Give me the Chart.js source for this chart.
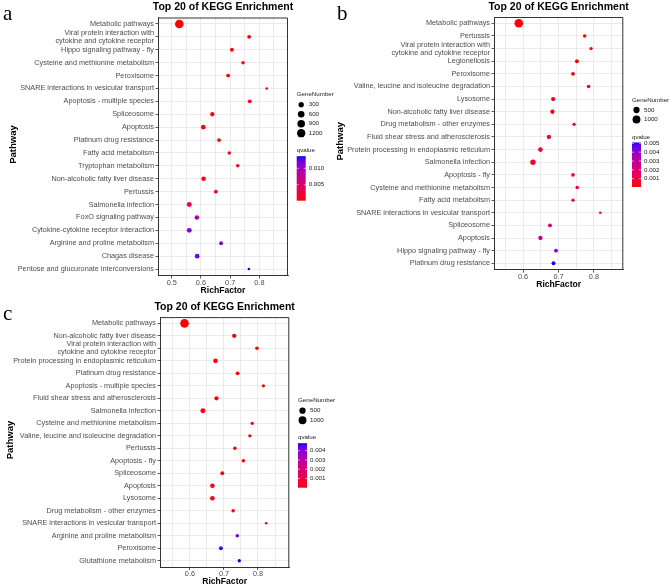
<!DOCTYPE html>
<html>
<head>
<meta charset="utf-8">
<script src="https://cdn.jsdelivr.net/npm/chart.js@4.4.0/dist/chart.umd.min.js"></script>
<style>
  body { margin: 0; background: #fff; width: 670px; height: 588px; position: relative; overflow: hidden; }
  canvas { position: absolute; }
</style>
</head>
<body>
<canvas id="ca" width="335" height="300" style="left:0;top:0"></canvas>
<canvas id="cb" width="335" height="300" style="left:335px;top:0"></canvas>
<canvas id="cc" width="335" height="288" style="left:0;top:300px"></canvas>
<script>
// ---- panel a ----
const pathwaysA = ['Metabolic pathways', ['Viral protein interaction with', 'cytokine and cytokine receptor'],
  'Hippo signaling pathway - fly', 'Cysteine and methionine metabolism', 'Peroxisome',
  'SNARE interactions in vesicular transport', 'Apoptosis - multiple species', 'Spliceosome', 'Apoptosis',
  'Platinum drug resistance', 'Fatty acid metabolism', 'Tryptophan metabolism', 'Non-alcoholic fatty liver disease',
  'Pertussis', 'Salmonella infection', 'FoxO signaling pathway', 'Cytokine-cytokine receptor interaction',
  'Arginine and proline metabolism', 'Chagas disease', 'Pentose and glucuronate interconversions'];
const richA = [0.526, 0.765, 0.706, 0.744, 0.693, 0.825, 0.767, 0.639, 0.608, 0.662,
  0.697, 0.726, 0.609, 0.651, 0.560, 0.586, 0.560, 0.669, 0.587, 0.764];
const genesA = [1320, 78, 78, 53, 78, 25, 78, 123, 167, 78, 53, 53, 167, 78, 218, 167, 218, 78, 167, 25];
const qvalA = [0.0001, 0.0002, 0.0002, 0.0003, 0.0003, 0.0004, 0.0004, 0.0005, 0.0005, 0.0006,
  0.0007, 0.0008, 0.0009, 0.0010, 0.0025, 0.0088, 0.0112, 0.0110, 0.0122, 0.0137];
const xTicksA = [0.5, 0.6, 0.7, 0.8];
const geneKeysA = [300, 600, 900, 1200];
const qTicksA = [0.005, 0.010];

// ---- panel b ----
const pathwaysB = ['Metabolic pathways', 'Pertussis', ['Viral protein interaction with', 'cytokine and cytokine receptor'],
  'Legionellosis', 'Peroxisome', 'Valine, leucine and isoleucine degradation', 'Lysosome',
  'Non-alcoholic fatty liver disease', 'Drug metabolism - other enzymes', 'Fluid shear stress and atherosclerosis',
  'Protein processing in endoplasmic reticulum', 'Salmonella infection', 'Apoptosis - fly',
  'Cysteine and methionine metabolism', 'Fatty acid metabolism', 'SNARE interactions in vesicular transport',
  'Spliceosome', 'Apoptosis', 'Hippo signaling pathway - fly', 'Platinum drug resistance'];
const richB = [0.588, 0.774, 0.792, 0.752, 0.741, 0.785, 0.685, 0.683, 0.744, 0.673,
  0.649, 0.628, 0.741, 0.753, 0.741, 0.818, 0.676, 0.649, 0.693, 0.686];
const genesB = [1300, 53, 36, 78, 78, 53, 123, 123, 36, 123, 167, 298, 53, 53, 36, 20, 78, 123, 78, 78];
const qvalB = [0.00005, 0.00006, 0.00008, 0.0001, 0.0001, 0.00012, 0.00015, 0.0002, 0.0003, 0.0004,
  0.0006, 0.0006, 0.0009, 0.0010, 0.0008, 0.0012, 0.0022, 0.0028, 0.0040, 0.0051];
const xTicksB = [0.6, 0.7, 0.8];
const geneKeysB = [500, 1000];
const qTicksB = [0.001, 0.002, 0.003, 0.004, 0.005];

// ---- panel c ----
const pathwaysC = ['Metabolic pathways', 'Non-alcoholic fatty liver disease',
  ['Viral protein interaction with', 'cytokine and cytokine receptor'],
  'Protein processing in endoplasmic reticulum', 'Platinum drug resistance', 'Apoptosis - multiple species',
  'Fluid shear stress and atherosclerosis', 'Salmonella infection', 'Cysteine and methionine metabolism',
  'Valine, leucine and isoleucine degradation', 'Pertussis', 'Apoptosis - fly', 'Spliceosome', 'Apoptosis',
  'Lysosome', 'Drug metabolism - other enzymes', 'SNARE interactions in vesicular transport',
  'Arginine and proline metabolism', 'Peroxisome', 'Glutathione metabolism'];
const richC = [0.584, 0.730, 0.797, 0.675, 0.740, 0.816, 0.678, 0.638, 0.783, 0.776,
  0.732, 0.757, 0.695, 0.666, 0.666, 0.727, 0.824, 0.739, 0.691, 0.745];
const genesC = [1300, 123, 53, 167, 78, 36, 123, 218, 36, 36, 53, 53, 78, 167, 167, 53, 20, 53, 78, 36];
const qvalC = [0.00002, 0.00003, 0.00004, 0.00004, 0.00005, 0.00006, 0.00007, 0.00008, 0.0001, 0.0001,
  0.00012, 0.00014, 0.00016, 0.00018, 0.0002, 0.00025, 0.0003, 0.0040, 0.0046, 0.0048];
const xTicksC = [0.6, 0.7, 0.8];
const geneKeysC = [500, 1000];
const qTicksC = [0.001, 0.002, 0.003, 0.004];

const FONT = '"Liberation Sans", Arial, sans-serif';
Chart.defaults.font.family = FONT;

// red -> blue in Lab space, like ggplot's gradient
function toLab(rgb) {
  const lin = c => { c /= 255; return c <= 0.04045 ? c / 12.92 : Math.pow((c + 0.055) / 1.055, 2.4); };
  const [r, g, b] = rgb.map(lin);
  const x = (0.4124 * r + 0.3576 * g + 0.1805 * b) / 0.95047;
  const y = 0.2126 * r + 0.7152 * g + 0.0722 * b;
  const z = (0.0193 * r + 0.1192 * g + 0.9505 * b) / 1.08883;
  const f = t => t > 0.008856 ? Math.cbrt(t) : 7.787 * t + 16 / 116;
  return [116 * f(y) - 16, 500 * (f(x) - f(y)), 200 * (f(y) - f(z))];
}
function fromLab(L, a, bb) {
  const fy = (L + 16) / 116, fx = fy + a / 500, fz = fy - bb / 200;
  const inv = t => t * t * t > 0.008856 ? t * t * t : (t - 16 / 116) / 7.787;
  const x = inv(fx) * 0.95047, y = inv(fy), z = inv(fz) * 1.08883;
  const r = 3.2406 * x - 1.5372 * y - 0.4986 * z;
  const g = -0.9689 * x + 1.8758 * y + 0.0415 * z;
  const b = 0.0557 * x - 0.2040 * y + 1.0570 * z;
  const gam = c => {
    c = c <= 0.0031308 ? 12.92 * c : 1.055 * Math.pow(c, 1 / 2.4) - 0.055;
    return Math.round(Math.max(0, Math.min(1, c)) * 255);
  };
  return 'rgb(' + gam(r) + ',' + gam(g) + ',' + gam(b) + ')';
}
const LAB_LO = toLab([255, 0, 0]), LAB_HI = toLab([0, 0, 255]);
function mixColor(t) {
  t = Math.max(0, Math.min(1, t));
  return fromLab(LAB_LO[0] + (LAB_HI[0] - LAB_LO[0]) * t,
                 LAB_LO[1] + (LAB_HI[1] - LAB_LO[1]) * t,
                 LAB_LO[2] + (LAB_HI[2] - LAB_LO[2]) * t);
}

function buildPanel(id, p) {
  const canvas = document.getElementById(id);
  const W = canvas.width, H = canvas.height;
  const box = p.box;
  const gMin = Math.min(...p.genes), gMax = Math.max(...p.genes);
  const qMin = Math.min(...p.qvals), qMax = Math.max(...p.qvals);
  const radius = g => (2.6 + Math.sqrt(Math.max(0, g - gMin) / (gMax - gMin)) * 6.0) / 2;
  const colorOf = q => mixColor((q - qMin) / (qMax - qMin));

  const grid = [];
  for (let v = Math.ceil(p.xMin / 0.05) * 0.05; v <= p.xMax + 1e-9; v += 0.05) grid.push(+v.toFixed(2));
  const isMajor = v => p.xTicks.some(t => Math.abs(t - v) < 1e-6);

  const points = p.labels.map((lab, i) => ({ x: p.rich[i], y: i, r: radius(p.genes[i]) }));

  const decor = {
    id: 'decor_' + id,
    afterDraw(chart) {
      const ctx = chart.ctx, a = chart.chartArea;
      ctx.save();
      // right and top panel border
      ctx.strokeStyle = '#333';
      ctx.lineWidth = 1;
      ctx.beginPath();
      ctx.moveTo(a.left, a.top + 0.5);
      ctx.lineTo(a.right - 0.5, a.top + 0.5);
      ctx.lineTo(a.right - 0.5, a.bottom);
      ctx.stroke();

      ctx.fillStyle = '#000';
      ctx.textAlign = 'center';
      ctx.textBaseline = 'middle';
      ctx.font = 'bold 10.5px ' + FONT;
      ctx.fillText('Top 20 of KEGG Enrichment', (a.left + a.right) / 2, p.titleY);
      ctx.font = 'bold 8.6px ' + FONT;
      ctx.fillText('RichFactor', (a.left + a.right) / 2, p.xTitleY);
      ctx.save();
      ctx.translate(p.yTitleX, (a.top + a.bottom) / 2 - 2);
      ctx.rotate(-Math.PI / 2);
      ctx.font = 'bold 9.5px ' + FONT;
      ctx.fillText('Pathway', 0, 0);
      ctx.restore();

      // panel letter
      ctx.textAlign = 'left';
      ctx.textBaseline = 'alphabetic';
      ctx.font = '21px "Liberation Serif", "Times New Roman", serif';
      ctx.fillText(p.tag, p.tagX, 20);

      // GeneNumber legend
      const lx = a.right + 8.7;
      ctx.fillStyle = '#222';
      ctx.textBaseline = 'middle';
      ctx.font = '6.2px ' + FONT;
      ctx.fillText('GeneNumber', lx, p.legendY);
      let y = p.legendY + 10;
      p.geneKeys.forEach(g => {
        ctx.fillStyle = '#000';
        ctx.beginPath();
        ctx.arc(lx + 4.5, y, radius(g), 0, Math.PI * 2);
        ctx.fill();
        ctx.fillStyle = '#222';
        ctx.fillText(String(g), lx + 12, y);
        y += 9.5;
      });
      y -= 9.5;

      // qvalue colour bar
      const qTitle = y + 17.5, barTop = qTitle + 5.5, barBot = barTop + 44.5;
      ctx.fillText('qvalue', lx, qTitle);
      const grad = ctx.createLinearGradient(0, barBot, 0, barTop);
      for (let k = 0; k <= 20; k++) grad.addColorStop(k / 20, mixColor(k / 20));
      ctx.fillStyle = grad;
      ctx.fillRect(lx, barTop, 9, barBot - barTop);
      p.qTicks.forEach(q => {
        const ty = barBot - (q - qMin) / (qMax - qMin) * (barBot - barTop);
        ctx.strokeStyle = '#fff';
        ctx.lineWidth = 0.6;
        ctx.beginPath();
        ctx.moveTo(lx, ty); ctx.lineTo(lx + 2, ty);
        ctx.moveTo(lx + 7, ty); ctx.lineTo(lx + 9, ty);
        ctx.stroke();
        ctx.fillStyle = '#222';
        ctx.fillText(q.toFixed(3), lx + 12, ty);
      });
      ctx.restore();
    }
  };

  new Chart(canvas, {
    type: 'bubble',
    data: {
      labels: p.labels,
      datasets: [{
        data: points,
        backgroundColor: p.qvals.map(colorOf),
        borderWidth: 0,
        hoverBorderWidth: 0
      }]
    },
    options: {
      responsive: false,
      animation: false,
      events: [],
      layout: { padding: { left: 0, right: W - box.r, top: box.t, bottom: 0 } },
      plugins: { legend: { display: false }, tooltip: { enabled: false } },
      scales: {
        x: {
          type: 'linear',
          min: p.xMin,
          max: p.xMax,
          afterBuildTicks: s => { s.ticks = grid.map(v => ({ value: v })); },
          afterFit: s => { s.height = H - box.b; },
          grid: {
            color: '#e6e6e6',
            lineWidth: 0.8,
            tickLength: 3,
            tickColor: c => isMajor(c.tick.value) ? '#333' : 'rgba(0,0,0,0)'
          },
          border: { color: '#333', width: 1 },
          ticks: {
            autoSkip: false,
            maxRotation: 0,
            padding: 0,
            color: '#4d4d4d',
            font: { size: 7.3 },
            callback: v => isMajor(v) ? v.toFixed(1) : ''
          }
        },
        y: {
          type: 'category',
          labels: p.labels,
          offset: true,
          afterFit: s => { s.width = box.l; },
          grid: { color: '#e6e6e6', lineWidth: 0.8, offset: false, tickLength: 2.5, tickColor: '#333' },
          border: { color: '#333', width: 1 },
          ticks: {
            autoSkip: false,
            padding: 1.5,
            color: '#4d4d4d',
            font: { size: 7.3, lineHeight: 1.1 }
          }
        }
      }
    },
    plugins: [decor]
  });
}

buildPanel('ca', {
  tag: 'a', tagX: 3, labels: pathwaysA, rich: richA, genes: genesA, qvals: qvalA,
  xTicks: xTicksA, geneKeys: geneKeysA, qTicks: qTicksA,
  xMin: 0.453, xMax: 0.898,
  box: { l: 158, r: 288, t: 17.5, b: 275.5 },
  titleY: 7, xTitleY: 290.7, yTitleX: 13, legendY: 94.7
});
buildPanel('cb', {
  tag: 'b', tagX: 2, labels: pathwaysB, rich: richB, genes: genesB, qvals: qvalB,
  xTicks: xTicksB, geneKeys: geneKeysB, qTicks: qTicksB,
  xMin: 0.518, xMax: 0.883,
  box: { l: 159, r: 288.3, t: 17, b: 269.6 },
  titleY: 6.7, xTitleY: 284.3, yTitleX: 5, legendY: 100
});
buildPanel('cc', {
  tag: 'c', tagX: 3, labels: pathwaysC, rich: richC, genes: genesC, qvals: qvalC,
  xTicks: xTicksC, geneKeys: geneKeysC, qTicks: qTicksC,
  xMin: 0.512, xMax: 0.892,
  box: { l: 160, r: 289.3, t: 17.1, b: 267 },
  titleY: 6.7, xTitleY: 281.7, yTitleX: 10, legendY: 100.7
});
</script>
</body>
</html>
